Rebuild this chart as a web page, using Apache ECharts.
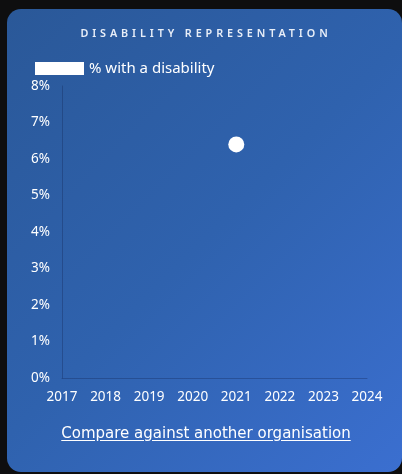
<!DOCTYPE html>
<html>
<head>
<meta charset="utf-8">
<script src="https://cdn.jsdelivr.net/npm/echarts@6/dist/echarts.min.js"></script>
<style>
  html, body { margin: 0; padding: 0; width: 402px; height: 474px; background: #0e0e0f; overflow: hidden; }
  #card {
    position: absolute; left: 7px; top: 9px; width: 395px; height: 463px;
    border-radius: 14px;
    background: linear-gradient(135deg, #2a5898 0%, #2f62ae 50%, #3b6fd0 100%);
  }
  #chart { position: absolute; left: 0; top: 0; width: 402px; height: 474px; }
  #title {
    position: absolute; left: 0; width: 412px; top: 25px; text-align: center;
    font-family: "Noto Sans", sans-serif; font-size: 10.8px; font-weight: 600;
    letter-spacing: 3.9px; color: #e8eef8;
  }
  #link {
    position: absolute; left: 0; width: 412px; top: 424px; text-align: center;
    font-family: "DejaVu Sans", sans-serif; font-size: 15px; color: #ffffff;
    text-decoration: underline; text-underline-offset: 2px;
  }
</style>
</head>
<body>
<div id="card"></div>
<div id="chart"></div>
<div id="title">DISABILITY REPRESENTATION</div>
<div id="link">Compare against another organisation</div>
<script>
const years = ['2017', '2018', '2019', '2020', '2021', '2022', '2023', '2024'];
const disabilityPct = [null, null, null, null, 6.4, null, null, null];
const yTicks = [0, 1, 2, 3, 4, 5, 6, 7, 8];

const chart = echarts.init(document.getElementById('chart'), null, { renderer: 'canvas' });
const font = '"Noto Sans", sans-serif';

chart.setOption({
  backgroundColor: 'transparent',
  legend: {
    left: 30, top: 56,
    itemWidth: 49, itemHeight: 13, itemGap: 6,
    icon: 'rect',
    textStyle: { color: '#ffffff', fontSize: 15, fontFamily: font },
    data: ['% with a disability']
  },
  grid: { left: 62, right: 35, top: 86, bottom: 96 },
  xAxis: {
    type: 'category',
    data: years,
    boundaryGap: false,
    axisLine: { show: true, lineStyle: { color: 'rgba(20,40,90,0.35)', width: 1 } },
    axisTick: { show: false },
    axisLabel: { color: '#ffffff', fontSize: 13.5, fontFamily: font, margin: 12 },
    splitLine: { show: false }
  },
  yAxis: {
    type: 'value',
    min: yTicks[0], max: yTicks[yTicks.length - 1], interval: 1,
    axisLine: { show: true, lineStyle: { color: 'rgba(20,40,90,0.35)', width: 1 } },
    axisTick: { show: false },
    splitLine: { show: false },
    axisLabel: { color: '#ffffff', fontSize: 13.5, fontFamily: font, margin: 12, formatter: v => v + '%' }
  },
  series: [{
    name: '% with a disability',
    type: 'scatter',
    data: disabilityPct,
    symbol: 'circle',
    symbolSize: 16,
    itemStyle: { color: '#ffffff', opacity: 1 }
  }]
});
</script>
</body>
</html>
